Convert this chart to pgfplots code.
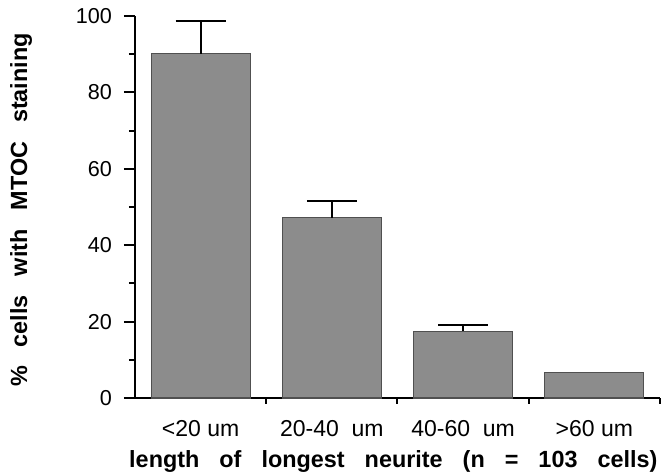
\documentclass[border=0pt]{standalone}
\usepackage{fontspec}
\setmainfont{Liberation Sans}
\usepackage{pgfplots}
\pgfplotsset{compat=1.18}
\definecolor{barfill}{RGB}{140,140,140}
\definecolor{baredge}{RGB}{80,80,80}
\begin{document}
\begin{tikzpicture}
\begin{axis}[
  scale only axis,
  width=262.5pt, height=191pt,
  xmin=-0.5, xmax=3.5, ymin=0, ymax=100,
  axis x line=bottom, axis y line=left,
  axis line style={-, line width=1pt, black},
  tick style={black, line width=1pt},
  tick align=outside,
  major tick length=5.5pt, minor tick length=3pt,
  xtick={0,1,2,3},
  xticklabels={<20 um, 20-40\ \ um, 40-60\ \ um, >60 um},
  major x tick style={draw=none},
  minor xtick={0.5,1.5,2.5,3.5},
  ytick={0,20,40,60,80,100},
  minor ytick={10,30,50,70,90},
  xticklabel style={font=\fontsize{11.5}{13}\selectfont, yshift=-2pt},
  yticklabel style={font=\fontsize{10.8}{13}\selectfont, xshift=-2.5pt},
  /pgf/number format/assume math mode=true,
  xlabel={\spaceskip=10pt length of longest neurite (n = 103 cells)},
  xlabel style={font=\bfseries\fontsize{11.7}{14}\selectfont,
    at={(axis description cs:0.492,0)}, anchor=base, yshift=-35pt},
  ylabel={\spaceskip=9.5pt \% cells with MTOC staining},
  ylabel style={font=\bfseries\fontsize{11.7}{14}\selectfont,
    at={(axis description cs:-0.217,0.492)}, anchor=center},
  clip=false,
]
% bars with upward error bars
\addplot[ybar, bar width=49.5pt, fill=barfill, draw=baredge, line width=0.6pt,
  error bars/.cd, y dir=plus, y explicit,
  error bar style={black, line width=1pt},
  error mark options={black, line width=1pt, mark size=12.5pt, rotate=90}]
  coordinates {
  (0,90.1) +- (0,8.5)
  (1,47.2) +- (0,4.4)
  (2,17.5) +- (0,1.7)
};
% last bar, no error bar shown
\addplot[ybar, bar width=49.5pt, fill=barfill, draw=baredge, line width=0.6pt]
  coordinates {(3,6.7)};
\end{axis}
\pgfresetboundingbox
\path[use as bounding box] (-67.5pt,-38pt) rectangle (263pt,199pt);
\end{tikzpicture}
\end{document}
